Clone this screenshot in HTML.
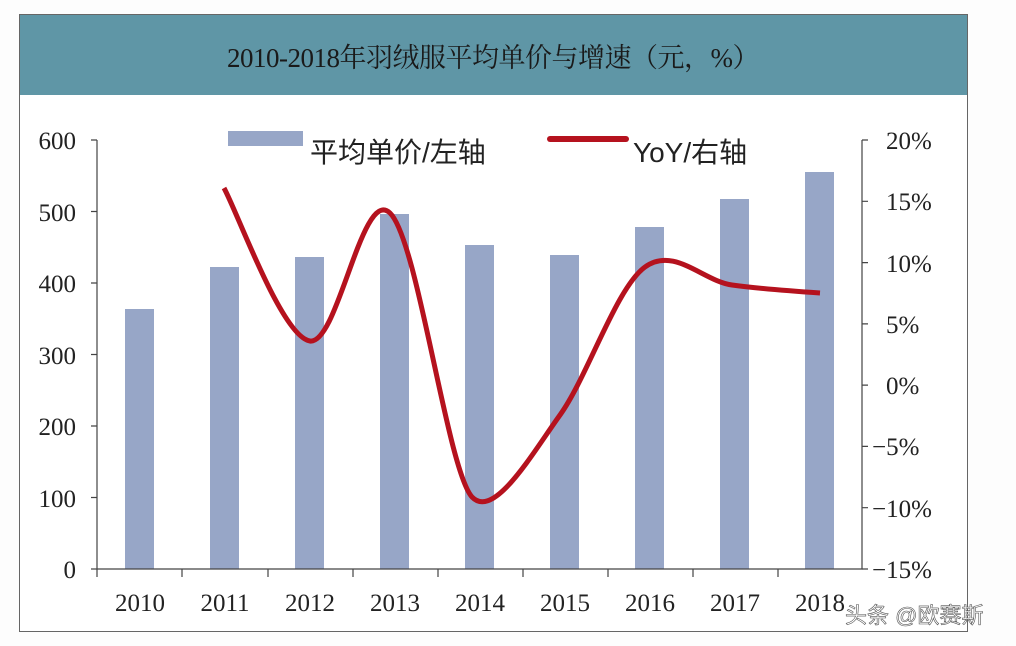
<!DOCTYPE html><html><head><meta charset="utf-8"><style>
body{margin:0;background:#fff;}
svg{display:block;font-family:"Liberation Serif","Noto Serif CJK SC",serif;}
</style></head><body>
<svg width="1016" height="646" viewBox="0 0 1016 646">
<rect x="0" y="0" width="1016" height="646" fill="#fdfdfd"/>
<rect x="19.5" y="14.5" width="948" height="617" fill="#fff" stroke="#666" stroke-width="1"/>
<rect x="20" y="15" width="947" height="80" fill="#5f96a6"/>
<text x="493" y="67" text-anchor="middle" font-size="27" fill="#1a1a1a" letter-spacing="-0.5" font-family="Liberation Serif,Noto Serif CJK SC,serif">2010-2018年羽绒服平均单价与增速（元，%）</text>
<g fill="#97a6c7">
<rect x="125" y="309" width="29" height="260"/>
<rect x="210" y="267" width="29" height="302"/>
<rect x="295" y="257" width="29" height="312"/>
<rect x="380" y="214" width="29" height="355"/>
<rect x="465" y="245" width="29" height="324"/>
<rect x="550" y="255" width="29" height="314"/>
<rect x="635" y="227" width="29" height="342"/>
<rect x="720" y="199" width="29" height="370"/>
<rect x="805" y="172" width="29" height="397"/>
</g>
<g stroke="#444" stroke-width="1.2" fill="none">
<path d="M97 140V569H862V140"/>
<path d="M91 140H97M91 211.5H97M91 283H97M91 354.5H97M91 426H97M91 497.5H97M91 569H97"/>
<path d="M862 140H868M862 201.3H868M862 262.6H868M862 323.9H868M862 385.1H868M862 446.4H868M862 507.7H868M862 569H868"/>
<path d="M97 569V577M182 569V577M268 569V577M353 569V577M438 569V577M523 569V577M608 569V577M693 569V577M778 569V577"/>
</g>
<g font-size="25" fill="#222" text-anchor="end">
<text x="76" y="149">600</text><text x="76" y="221">500</text><text x="76" y="292">400</text><text x="76" y="364">300</text><text x="76" y="435">200</text><text x="76" y="507">100</text><text x="76" y="578">0</text>
</g>
<g font-size="25" fill="#222">
<text x="886" y="149">20%</text><text x="886" y="210">15%</text><text x="886" y="272">10%</text><text x="886" y="333">5%</text><text x="886" y="394">0%</text><text x="872" y="455">−5%</text><text x="872" y="517">−10%</text><text x="872" y="578">−15%</text>
</g>
<g font-size="25" fill="#222" text-anchor="middle">
<text x="140" y="611">2010</text><text x="225" y="611">2011</text><text x="310" y="611">2012</text><text x="395" y="611">2013</text><text x="480" y="611">2014</text><text x="565" y="611">2015</text><text x="650" y="611">2016</text><text x="735" y="611">2017</text><text x="820" y="611">2018</text>
</g>
<path d="M224 188C238 213.5 282 337 310 341C338 345 362 186 390 213C418 240 447 469 472 497C494 520 532 454 560 415C588 376 616 288 645 267C674 246 703 281 732 285C761 289 820 293 820 293" fill="none" stroke="#b5121e" stroke-width="5"/>
<rect x="228" y="131" width="75" height="15" fill="#97a6c7"/>
<text x="310" y="162" font-size="28" fill="#222" font-family="Liberation Sans,Noto Sans CJK SC,sans-serif">平均单价/左轴</text>
<path d="M550 139H626" stroke="#b5121e" stroke-width="6" stroke-linecap="round"/>
<text x="633" y="162" font-size="28" fill="#222" font-family="Liberation Sans,Noto Sans CJK SC,sans-serif">YoY/右轴</text>
<text x="845" y="623" font-size="22" fill="#fff" stroke="#555" stroke-width="0.6" font-family="Liberation Sans,Noto Sans CJK SC,sans-serif">头条 @欧赛斯</text>
</svg>
</body></html>
